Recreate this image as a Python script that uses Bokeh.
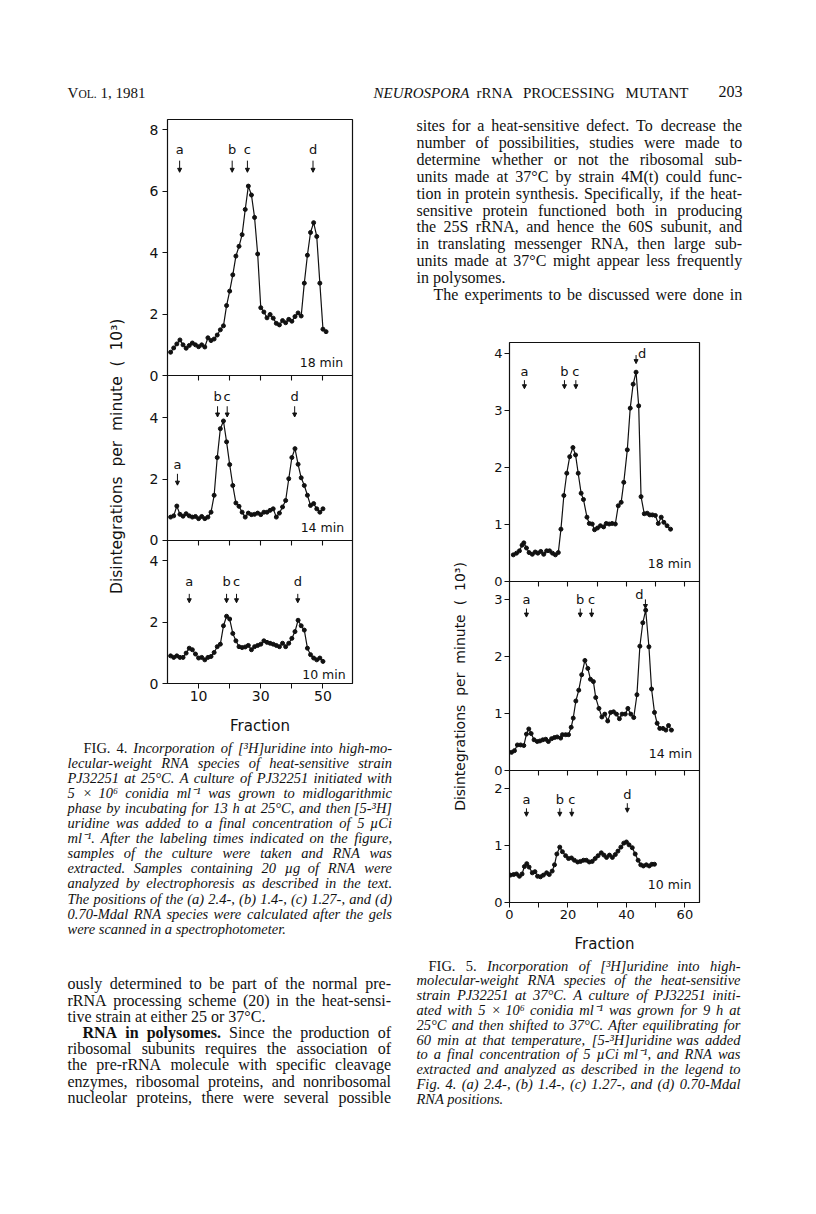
import math
from bokeh.plotting import figure
from bokeh.models import Range1d, LinearAxis, FixedTicker, ColumnDataSource, Arrow, NormalHead
from bokeh.layouts import column, row
from bokeh.embed import file_html
from bokeh.resources import INLINE
from bokeh.core.properties import value

INK = "#111111"
SERIF = "Liberation Serif"
SANS = "DejaVu Sans"

# ---------------- data: Fig. 4 (25 C) ----------------
fig4_fraction_18 = list(range(1, 52))
fig4_dpm_18 = [0.76, 0.90, 1.03, 1.16, 1.00, 0.89, 0.98, 1.06, 1.00, 0.94,
               1.00, 0.93, 1.23, 1.14, 1.19, 1.32, 1.49, 1.62, 2.28, 2.75,
               3.28, 3.89, 4.21, 4.59, 5.41, 6.17, 5.88, 5.15, 3.96, 2.21,
               2.07, 1.88, 1.99, 1.87, 1.70, 1.65, 1.79, 1.72, 1.83, 1.77,
               1.92, 2.04, 1.94, 3.01, 3.92, 4.66, 4.98, 4.53, 3.01, 1.51, 1.43]
fig4_fraction_14 = list(range(1, 51))
fig4_dpm_14 = [0.76, 0.80, 1.12, 0.85, 0.79, 0.87, 0.80, 0.76, 0.78, 0.71,
               0.78, 0.71, 0.76, 0.92, 1.47, 2.70, 3.64, 3.89, 3.21, 2.47,
               1.79, 1.22, 1.11, 0.92, 0.76, 0.89, 0.84, 0.85, 0.89, 0.84,
               0.92, 0.92, 0.98, 1.03, 0.76, 0.89, 1.09, 1.30, 2.01, 2.70,
               2.99, 2.48, 2.04, 1.79, 1.47, 1.14, 1.20, 1.03, 0.92, 1.03]
fig4_fraction_10 = list(range(1, 51))
fig4_dpm_10 = [0.90, 0.85, 0.90, 0.85, 0.85, 0.99, 1.15, 1.10, 0.96, 0.83,
               0.85, 0.77, 0.85, 0.88, 1.01, 1.20, 1.28, 1.88, 2.19, 2.10,
               1.63, 1.39, 1.20, 1.17, 1.19, 1.24, 1.10, 1.20, 1.24, 1.28,
               1.39, 1.34, 1.31, 1.28, 1.24, 1.20, 1.31, 1.20, 1.31, 1.47,
               1.69, 2.06, 1.88, 1.74, 1.15, 0.94, 0.83, 0.77, 0.83, 0.72]
fig4_yticks = [[0, 2, 4, 6, 8], [0, 2, 4], [0, 2, 4]]
fig4_times = ["18 min", "14 min", "10 min"]
fig4_mark_letters = [["a", "b", "c", "d"], ["a", "b", "c", "d"], ["a", "b", "c", "d"]]
fig4_mark_x = [[3.9, 20.8, 25.7, 46.8], [3.2, 16.1, 19.2, 40.9], [7.0, 19.0, 22.2, 41.9]]
fig4_mark_text_y = [[7.35, 7.35, 7.35, 7.35], [2.48, 4.70, 4.70, 4.70], [3.32, 3.32, 3.32, 3.32]]
fig4_arrow_x = [[3.9, 20.8, 25.7, 46.8], [3.2, 16.1, 19.2, 40.9], [7.0, 19.0, 22.2, 41.9]]
fig4_arrow_top = [[7.0, 7.0, 7.0, 7.0], [2.17, 4.37, 4.37, 4.37], [2.92, 2.92, 2.92, 2.92]]
fig4_arrow_bottom = [[6.62, 6.62, 6.62, 6.62], [1.80, 4.02, 4.02, 4.02], [2.63, 2.63, 2.63, 2.63]]
fig4_xticks = [10, 20, 30, 40, 50]
fig4_xlabels = {10: "10", 20: "", 30: "30", 40: "", 50: "50"}

# ---------------- data: Fig. 5 (37 C) ----------------
fig5_fraction_18 = [1.3, 2.4, 3.4, 4.3, 4.9, 5.8, 6.7, 7.8, 8.8, 9.7, 10.7, 11.7, 12.7, 13.7,
                    14.7, 15.7, 16.7, 17.6, 18.6, 19.6, 20.6, 21.7, 22.6, 23.5, 24.5, 25.3,
                    26.5, 27.3, 28.3, 29.1, 30.1, 31.1, 32.2, 33.1, 34.1, 35.1, 36.2, 37.2,
                    38.2, 39.1, 40.3, 41.3, 42.3, 43.3, 44.2, 45.0, 46.1, 47.1, 48.0, 48.9,
                    49.9, 50.9, 51.9, 52.8, 53.9, 55.1]
fig5_dpm_18 = [0.47, 0.50, 0.54, 0.64, 0.68, 0.59, 0.51, 0.48, 0.52, 0.50, 0.53, 0.48, 0.54, 0.54,
               0.50, 0.47, 0.51, 0.92, 1.51, 1.90, 2.19, 2.35, 2.22, 1.90, 1.55, 1.44,
               1.13, 1.02, 1.01, 0.91, 0.94, 0.98, 0.96, 1.02, 1.01, 1.02, 1.01, 1.33,
               1.39, 1.74, 2.31, 3.04, 3.46, 3.67, 3.08, 1.49, 1.19, 1.20, 1.17, 1.17,
               1.16, 1.02, 1.13, 1.04, 0.98, 0.92]
fig5_fraction_14 = [0.7, 1.7, 2.7, 3.8, 4.9, 5.8, 6.6, 7.4, 8.4, 9.5, 10.4, 11.4, 12.4, 13.3,
                    14.4, 15.4, 16.3, 17.5, 18.1, 19.2, 20.2, 21.1, 21.8, 22.7, 23.7, 24.7,
                    25.8, 26.8, 27.7, 28.7, 29.5, 30.6, 31.6, 32.6, 33.6, 34.6, 35.6, 36.6,
                    37.6, 38.5, 39.6, 40.5, 41.5, 42.5, 43.6, 44.6, 45.6, 46.6, 47.7, 48.6,
                    49.6, 50.5, 51.4, 52.5, 53.5, 54.4, 55.4]
fig5_dpm_14 = [0.32, 0.35, 0.45, 0.45, 0.44, 0.64, 0.73, 0.65, 0.54, 0.51, 0.52, 0.54, 0.55, 0.51,
               0.56, 0.58, 0.59, 0.57, 0.63, 0.63, 0.63, 0.76, 0.92, 1.22, 1.41, 1.68,
               1.93, 1.79, 1.60, 1.56, 1.28, 1.09, 0.94, 0.99, 0.87, 1.02, 1.03, 0.99,
               0.91, 0.99, 0.99, 1.09, 0.99, 0.93, 1.33, 2.18, 2.59, 2.81, 2.17, 1.43,
               1.02, 0.83, 0.74, 0.74, 0.71, 0.79, 0.71]
fig5_fraction_10 = [0.3, 1.4, 2.4, 3.4, 4.3, 5.1, 5.9, 6.7, 7.8, 8.7, 9.6, 10.6, 11.6, 12.7,
                    13.6, 14.6, 15.4, 16.2, 17.2, 18.1, 19.2, 20.2, 21.2, 22.2, 23.3, 24.3,
                    25.3, 26.3, 27.3, 28.3, 29.3, 30.3, 31.4, 32.3, 33.2, 34.2, 35.2, 36.2,
                    37.1, 38.1, 39.1, 40.0, 40.9, 42.0, 43.0, 44.0, 44.9, 45.8, 46.8, 47.8,
                    48.7, 49.6]
fig5_dpm_10 = [0.48, 0.49, 0.50, 0.46, 0.50, 0.63, 0.68, 0.62, 0.52, 0.54, 0.46, 0.45, 0.48, 0.52,
               0.49, 0.55, 0.66, 0.85, 0.97, 0.89, 0.82, 0.77, 0.78, 0.74, 0.71, 0.72,
               0.74, 0.74, 0.71, 0.72, 0.77, 0.82, 0.87, 0.83, 0.79, 0.83, 0.79, 0.84,
               0.90, 0.97, 1.04, 1.06, 1.01, 0.96, 0.85, 0.74, 0.66, 0.64, 0.66, 0.64,
               0.67, 0.67]
fig5_yticks = [[0, 1, 2, 3, 4], [0, 1, 2, 3], [0, 1, 2]]
fig5_times = ["18 min", "14 min", "10 min"]
fig5_mark_letters = [["a", "b", "c", "d"], ["a", "b", "c", "d"], ["a", "b", "c", "d"]]
fig5_mark_x = [[5.1, 18.8, 22.7, 45.4], [5.8, 24.2, 28.1, 44.4], [5.8, 17.2, 21.3, 40.3]]
fig5_mark_text_y = [[3.68, 3.68, 3.68, 4.00], [2.99, 2.99, 2.99, 3.09], [1.81, 1.81, 1.81, 1.90]]
fig5_arrow_x = [[5.1, 18.8, 22.7, 43.3], [5.8, 24.2, 28.1, 46.5], [5.8, 17.2, 21.3, 40.3]]
fig5_arrow_top = [[3.53, 3.53, 3.53, 3.97], [2.84, 2.84, 2.84, 3.00], [1.65, 1.65, 1.65, 1.74]]
fig5_arrow_bottom = [[3.38, 3.38, 3.38, 3.82], [2.69, 2.69, 2.69, 2.84], [1.51, 1.51, 1.51, 1.58]]
fig5_xticks = [0, 10, 20, 30, 40, 50, 60]
fig5_xlabels = {0: "0", 10: "", 20: "20", 30: "", 40: "40", 50: "", 60: "60"}
fig5_sep_ticks = [10, 20, 30, 40, 50, 60]

# ---------------- page text ----------------
header_vol = ["V", "OL.", "1, 1981"]
header_journal_italic = "NEUROSPORA"
header_journal_rest = ["rRNA PROCESSING MUTANT"]
header_page = "203"

right_body = [
    "sites for a heat-sensitive defect. To decrease the",
    "number of possibilities, studies were made to",
    "determine whether or not the ribosomal sub-",
    "units made at 37°C by strain 4M(t) could func-",
    "tion in protein synthesis. Specifically, if the heat-",
    "sensitive protein functioned both in producing",
    "the 25S rRNA, and hence the 60S subunit, and",
    "in translating messenger RNA, then large sub-",
    "units made at 37°C might appear less frequently",
    "in polysomes.",
    "The experiments to be discussed were done in",
]
left_body = [
    "ously determined to be part of the normal pre-",
    "rRNA processing scheme (20) in the heat-sensi-",
    "tive strain at either 25 or 37°C.",
    "RNA in polysomes. Since the production of",
    "ribosomal subunits requires the association of",
    "the pre-rRNA molecule with specific cleavage",
    "enzymes, ribosomal proteins, and nonribosomal",
    "nucleolar proteins, there were several possible",
]
fig4_caption = [
    "FIG. 4. Incorporation of [³H]uridine into high-mo-",
    "lecular-weight RNA species of heat-sensitive strain",
    "PJ32251 at 25°C. A culture of PJ32251 initiated with",
    "5 × 10⁶ conidia ml⁻¹ was grown to midlogarithmic",
    "phase by incubating for 13 h at 25°C, and then [5-³H]",
    "uridine was added to a final concentration of 5 µCi",
    "ml⁻¹. After the labeling times indicated on the figure,",
    "samples of the culture were taken and RNA was",
    "extracted. Samples containing 20 µg of RNA were",
    "analyzed by electrophoresis as described in the text.",
    "The positions of the (a) 2.4-, (b) 1.4-, (c) 1.27-, and (d)",
    "0.70-Mdal RNA species were calculated after the gels",
    "were scanned in a spectrophotometer.",
]
fig5_caption = [
    "FIG. 5. Incorporation of [³H]uridine into high-",
    "molecular-weight RNA species of the heat-sensitive",
    "strain PJ32251 at 37°C. A culture of PJ32251 initi-",
    "ated with 5 × 10⁶ conidia ml⁻¹ was grown for 9 h at",
    "25°C and then shifted to 37°C. After equilibrating for",
    "60 min at that temperature, [5-³H]uridine was added",
    "to a final concentration of 5 µCi ml⁻¹, and RNA was",
    "extracted and analyzed as described in the legend to",
    "Fig. 4. (a) 2.4-, (b) 1.4-, (c) 1.27-, and (d) 0.70-Mdal",
    "RNA positions.",
]
NB = "\u00a0"
y_title = f"Disintegrations{NB}{NB}per{NB}{NB}minute{NB}{NB}({NB}{NB}10³)"
x_title = "Fraction"

# ---------------- approximate serif metrics (per 1000 em) ----------------
LOW = "abcdefghijklmnopqrstuvwxyz"
UP = "ABCDEFGHIJKLMNOPQRSTUVWXYZ"
REG = dict(zip(LOW, [444, 500, 444, 500, 444, 333, 500, 500, 278, 278, 500, 278, 778, 500, 500, 500, 500, 333, 389, 278, 500, 500, 722, 500, 500, 444]))
REG.update(zip(UP, [722, 667, 667, 722, 611, 556, 722, 722, 333, 389, 722, 611, 889, 722, 722, 556, 722, 667, 556, 611, 722, 722, 944, 722, 722, 611]))
ITA = dict(zip(LOW, [500, 500, 444, 500, 444, 278, 500, 500, 278, 278, 444, 278, 722, 500, 500, 500, 500, 389, 389, 278, 500, 444, 667, 444, 444, 389]))
ITA.update(zip(UP, [611, 611, 667, 722, 611, 611, 722, 722, 333, 444, 667, 556, 833, 667, 722, 611, 722, 611, 500, 556, 722, 611, 833, 611, 556, 556]))
BLD = dict(zip(LOW, [500, 556, 444, 556, 444, 333, 500, 556, 278, 333, 556, 278, 833, 556, 500, 556, 556, 444, 389, 333, 556, 500, 722, 500, 500, 444]))
BLD.update(zip(UP, [722, 667, 722, 722, 667, 611, 778, 778, 389, 500, 778, 667, 944, 722, 778, 611, 778, 722, 556, 667, 722, 722, 1000, 722, 722, 667]))
COMMON = {" ": 250, ",": 250, ".": 250, "-": 333, "(": 333, ")": 333, "[": 333, "]": 333,
          ":": 278, ";": 278, "°": 400, "×": 564, "µ": 500, "³": 300, "¹": 300, "⁶": 300, "⁻": 333}
for t in (REG, ITA, BLD):
    t.update({c: 500 for c in "0123456789"})
    for k, v in COMMON.items():
        t.setdefault(k, v)
TABLES = {"normal": REG, "italic": ITA, "bold": BLD}


def word_width(word, style, size):
    tab = TABLES[style]
    return sum(tab.get(ch, 500) for ch in word) * size / 1000.0


def page_fig(w, h):
    f = figure(width=w, height=h, x_range=Range1d(0, w), y_range=Range1d(h, 0),
               x_axis_location=None, y_axis_location=None, toolbar_location=None,
               output_backend="svg", min_border=0)
    f.outline_line_color = None
    f.grid.visible = False
    f.background_fill_color = "white"
    f.border_fill_color = "white"
    return f


def put(f, xs, ys, ts, size, style="normal", align="left", font=SERIF, angle=0.0):
    f.text(x=xs, y=ys, text=ts, angle=angle, text_font=value(font),
           text_font_size=value(f"{size}px"), text_font_style=value(style),
           text_align=value(align), text_baseline=value("middle"), text_color=INK)


def typeset(f, lines, x0, x1, y0, dy, size, base, alt_style, indent=None, ragged=(), alt=None):
    indent = indent or {}
    alt = alt or {}
    groups = {}
    for i, line in enumerate(lines):
        y = y0 + i * dy
        left = x0 + indent.get(i, 0)
        words = line.split(" ")
        n = len(words)
        styles = [alt_style if j < alt.get(i, 0) else base for j in range(n)]
        if i in ragged and alt.get(i, 0) == 0:
            groups.setdefault((base, "left"), ([], [], []))
            g = groups[(base, "left")]
            g[0].append(left); g[1].append(y); g[2].append(line)
            continue
        widths = [word_width(w, s, size) for w, s in zip(words, styles)]
        if i in ragged or n == 1:
            gap = 0.25 * size
        else:
            gap = (x1 - left - sum(widths)) / (n - 1)
        x = left
        for j in range(n):
            if j == n - 1 and n > 1 and i not in ragged:
                key, xx = (styles[j], "right"), x1
            else:
                key, xx = (styles[j], "left"), x
            groups.setdefault(key, ([], [], []))
            g = groups[key]
            g[0].append(xx); g[1].append(y); g[2].append(words[j])
            x += widths[j] + gap
    for (s, a), (xs, ys, ts) in groups.items():
        put(f, xs, ys, ts, size, style=s, align=a)


def chart(width, height, borders, xmax, panels, sep_ticks, bottom_ticks, bottom_labels,
          tick_px, mark_px, time_px, label_standoff):
    total = sum(p["ymax"] for p in panels)
    ranges, belows = [], []
    below = total
    for p in panels:
        below -= p["ymax"]
        belows.append(below)
        ranges.append(Range1d(-below, total - below))
    names = ["default", "mid", "bot"]
    f = figure(width=width, height=height, x_range=Range1d(0, xmax), y_range=ranges[0],
               x_axis_location=None, y_axis_location=None, toolbar_location=None,
               output_backend="svg", min_border_left=borders[0], min_border_right=borders[1],
               min_border_top=borders[2], min_border_bottom=borders[3])
    f.extra_y_ranges = {"mid": ranges[1], "bot": ranges[2]}
    f.grid.visible = False
    f.outline_line_color = INK
    f.outline_line_width = 1.2
    f.background_fill_color = "white"
    f.border_fill_color = "white"

    for name, p in zip(names, panels):
        src = ColumnDataSource(dict(x=p["x"], y=p["y"]))
        f.line("x", "y", source=src, y_range_name=name, line_color=INK, line_width=1.2)
        f.scatter("x", "y", source=src, y_range_name=name, size=4, color=INK)
        f.text(x=p["mx"], y=p["my"], text=p["ml"], y_range_name=name, text_font=value(SANS),
               text_font_size=value(f"{mark_px}px"), text_align=value("center"),
               text_baseline=value("middle"), text_color=INK)
        asrc = ColumnDataSource(dict(x=p["ax"], y0=p["ay0"], y1=p["ay1"]))
        f.add_layout(Arrow(end=NormalHead(size=4, fill_color=INK, line_color=INK, line_width=1),
                           x_start="x", y_start="y0", x_end="x", y_end="y1", source=asrc,
                           y_range_name=name, line_color=INK, line_width=1))
        f.text(x=[p["tx"]], y=[p["ty"]], text=[p["time"]], y_range_name=name,
               text_font=value(SANS), text_font_size=value(f"{time_px}px"),
               text_align=value("right"), text_baseline=value("middle"), text_color=INK)

    # one left axis for the stacked panels: each panel's ticks expressed on the top panel's scale
    tick_pos, tick_lab = [], {}
    for p, bk in zip(panels, belows):
        for t in p["yticks"]:
            pos = round(t + bk - belows[0], 6)
            tick_pos.append(pos)
            tick_lab[pos] = str(t)
    ax = LinearAxis(ticker=FixedTicker(ticks=tick_pos), major_label_overrides=tick_lab)
    ax.axis_line_color = None
    ax.major_tick_out = 5
    ax.major_tick_in = 0
    ax.major_tick_line_color = INK
    ax.major_tick_line_width = 1.1
    ax.minor_tick_line_color = None
    ax.major_label_standoff = label_standoff
    ax.major_label_text_font = SANS
    ax.major_label_text_font_size = f"{tick_px}px"
    ax.major_label_text_color = INK
    f.add_layout(ax, "left")

    # panel separators with their fraction ticks
    for name in names[:2]:
        sx = LinearAxis(y_range_name=name, fixed_location=0, ticker=FixedTicker(ticks=sep_ticks))
        sx.axis_line_color = INK
        sx.axis_line_width = 1.2
        sx.major_tick_out = 5
        sx.major_tick_in = 0
        sx.major_tick_line_color = INK
        sx.major_tick_line_width = 1.1
        sx.minor_tick_line_color = None
        sx.major_label_text_color = None
        f.add_layout(sx, "below")

    bx = LinearAxis(y_range_name="bot", ticker=FixedTicker(ticks=bottom_ticks),
                    major_label_overrides=bottom_labels, axis_label=x_title)
    bx.axis_line_color = INK
    bx.axis_line_width = 1.2
    bx.major_tick_out = 5
    bx.major_tick_in = 0
    bx.major_tick_line_color = INK
    bx.minor_tick_line_color = None
    bx.major_label_standoff = 2
    bx.major_label_text_font = SANS
    bx.major_label_text_font_size = f"{tick_px}px"
    bx.major_label_text_color = INK
    bx.axis_label_text_font = SANS
    bx.axis_label_text_font_style = "normal"
    bx.axis_label_text_font_size = "15px"
    bx.axis_label_text_color = INK
    bx.axis_label_standoff = 13
    f.add_layout(bx, "below")
    return f


def panels_from(xs, ys, ymaxs, yticks, letters, mx, my, ax, at, ab, times, tpos):
    out = []
    for k in range(3):
        out.append(dict(x=xs[k], y=ys[k], ymax=ymaxs[k], yticks=yticks[k], ml=letters[k],
                        mx=mx[k], my=my[k], ax=ax[k], ay0=at[k], ay1=ab[k], time=times[k],
                        tx=tpos[k][0], ty=tpos[k][1]))
    return out


fig4_panels = panels_from([fig4_fraction_18, fig4_fraction_14, fig4_fraction_10],
                          [fig4_dpm_18, fig4_dpm_14, fig4_dpm_10],
                          [8.34, 5.37, 4.66], fig4_yticks, fig4_mark_letters, fig4_mark_x,
                          fig4_mark_text_y, fig4_arrow_x, fig4_arrow_top, fig4_arrow_bottom,
                          fig4_times, [(56.5, 0.43), (56.8, 0.43), (57.3, 0.29)])
fig5_panels = panels_from([fig5_fraction_18, fig5_fraction_14, fig5_fraction_10],
                          [fig5_dpm_18, fig5_dpm_14, fig5_dpm_10],
                          [4.19, 3.31, 2.31], fig5_yticks, fig5_mark_letters, fig5_mark_x,
                          fig5_mark_text_y, fig5_arrow_x, fig5_arrow_top, fig5_arrow_bottom,
                          fig5_times, [(62.2, 0.31), (62.5, 0.30), (62.2, 0.31)])

# ---------------- layout (page coordinates) ----------------
header = page_fig(816, 108)
put(header, [67], [92], [header_vol[0]], 15)
put(header, [78], [93], [header_vol[1]], 11.5)
put(header, [100], [92], [header_vol[2]], 15)
put(header, [373], [92], [header_journal_italic], 15, style="italic")
typeset(header, header_journal_rest, 476, 688, 92, 0, 15, "normal", "normal")
put(header, [742], [91], [header_page], 16, align="right")

# left column (page x 0..410)
fig4 = chart(276, 633, (33, 58, 11, 58), 59.5, fig4_panels, fig4_xticks, fig4_xticks,
             fig4_xlabels, 14, 13, 12.5, 4)
ylab4 = page_fig(134, 633)
put(ylab4, [116], [378], [y_title], 15.5, font=SANS, align="center", angle=math.pi / 2)
textL = page_fig(410, 469)
typeset(textL, fig4_caption, 67, 391.5, 6, 15.1, 14.5, "italic", "normal",
        indent={0: 16}, ragged={12}, alt={0: 2})
typeset(textL, left_body, 67, 390.5, 242.3, 16.2, 16, "normal", "bold",
        indent={3: 15}, ragged={2}, alt={3: 3})
left_col = column(row(ylab4, fig4), textL)

# right column (page x 410..816)
textR1 = page_fig(406, 231)
typeset(textR1, right_body, 6, 331.7, 17, 16.9, 16, "normal", "bold",
        indent={10: 17}, ragged={9})
fig5 = chart(330, 617, (33, 107, 3, 54), 65.0, fig5_panels, fig5_sep_ticks, fig5_xticks,
             fig5_xlabels, 13, 13, 12.5, 2)
ylab5 = page_fig(66, 617)
put(ylab5, [49], [379], [y_title], 14, font=SANS, align="center", angle=math.pi / 2)
textR2 = page_fig(406, 254)
typeset(textR2, fig5_caption, 6, 330, 9, 14.8, 14.5, "italic", "normal",
        indent={0: 12}, ragged={9}, alt={0: 2})
right_col = column(textR1, row(ylab5, fig5), textR2)

root = column(header, row(left_col, right_col))

open("out.html", "w").write(file_html(root, INLINE, "Neurospora rRNA processing mutant"))
